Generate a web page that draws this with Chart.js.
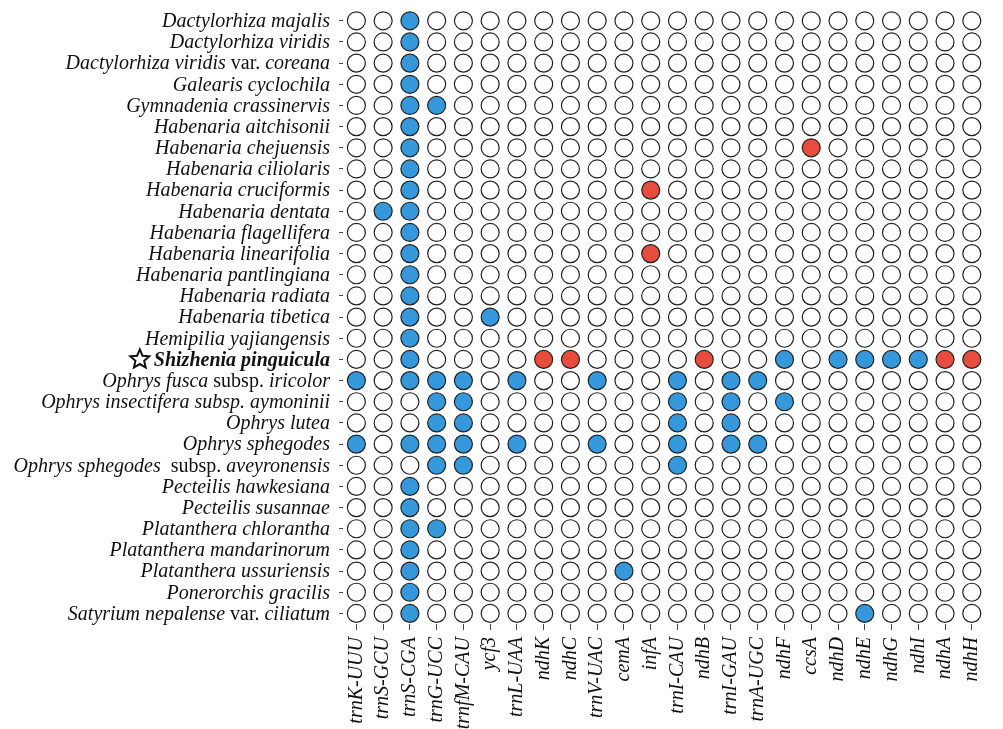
<!DOCTYPE html>
<html>
<head>
<meta charset="utf-8">
<script src="https://cdn.jsdelivr.net/npm/chart.js@4.4.1/dist/chart.umd.min.js"></script>
<style>
  html, body { margin: 0; padding: 0; background: #fff; }
  #wrap { width: 1003px; height: 729px; position: relative; }
</style>
</head>
<body>
<div id="wrap"><canvas id="chart"></canvas></div>
<script>
const genes = ['trnK-UUU', 'trnS-GCU', 'trnS-CGA', 'trnG-UCC', 'trnfM-CAU', 'ycf3', 'trnL-UAA', 'ndhK',
    'ndhC', 'trnV-UAC', 'cemA', 'infA', 'trnI-CAU', 'ndhB', 'trnI-GAU', 'trnA-UGC', 'ndhF', 'ccsA',
    'ndhD', 'ndhE', 'ndhG', 'ndhI', 'ndhA', 'ndhH']

// {...} marks the upright (non italic) part of a name
const speciesLabels = [
    'Dactylorhiza majalis',
    'Dactylorhiza viridis',
    'Dactylorhiza viridis{ var. }coreana',
    'Galearis cyclochila',
    'Gymnadenia crassinervis',
    'Habenaria aitchisonii',
    'Habenaria chejuensis',
    'Habenaria ciliolaris',
    'Habenaria cruciformis',
    'Habenaria dentata',
    'Habenaria flagellifera',
    'Habenaria linearifolia',
    'Habenaria pantlingiana',
    'Habenaria radiata',
    'Habenaria tibetica',
    'Hemipilia yajiangensis',
    'Shizhenia pinguicula',
    'Ophrys fusca{ subsp. }iricolor',
    'Ophrys insectifera subsp. aymoninii',
    'Ophrys lutea',
    'Ophrys sphegodes',
    'Ophrys sphegodes{  subsp. }aveyronensis',
    'Pecteilis hawkesiana',
    'Pecteilis susannae',
    'Platanthera chlorantha',
    'Platanthera mandarinorum',
    'Platanthera ussuriensis',
    'Ponerorchis gracilis',
    'Satyrium nepalense{ var. }ciliatum'
]
const species = speciesLabels.map(s => s.replace(/[{}]/g, ''))
const highlighted = 'Shizhenia pinguicula'

// genes drawn blue, one list per species (same order)
const blueGenes = [
    ['trnS-CGA'],
    ['trnS-CGA'],
    ['trnS-CGA'],
    ['trnS-CGA'],
    ['trnS-CGA', 'trnG-UCC'],
    ['trnS-CGA'],
    ['trnS-CGA'],
    ['trnS-CGA'],
    ['trnS-CGA'],
    ['trnS-GCU', 'trnS-CGA'],
    ['trnS-CGA'],
    ['trnS-CGA'],
    ['trnS-CGA'],
    ['trnS-CGA'],
    ['trnS-CGA', 'ycf3'],
    ['trnS-CGA'],
    ['trnS-CGA', 'ndhF', 'ndhD', 'ndhE', 'ndhG', 'ndhI'],
    ['trnK-UUU', 'trnS-CGA', 'trnG-UCC', 'trnfM-CAU', 'trnL-UAA', 'trnV-UAC', 'trnI-CAU', 'trnI-GAU', 'trnA-UGC'],
    ['trnG-UCC', 'trnfM-CAU', 'trnI-CAU', 'trnI-GAU', 'ndhF'],
    ['trnG-UCC', 'trnfM-CAU', 'trnI-CAU', 'trnI-GAU'],
    ['trnK-UUU', 'trnS-CGA', 'trnG-UCC', 'trnfM-CAU', 'trnL-UAA', 'trnV-UAC', 'trnI-CAU', 'trnI-GAU', 'trnA-UGC'],
    ['trnG-UCC', 'trnfM-CAU', 'trnI-CAU'],
    ['trnS-CGA'],
    ['trnS-CGA'],
    ['trnS-CGA', 'trnG-UCC'],
    ['trnS-CGA'],
    ['trnS-CGA', 'cemA'],
    ['trnS-CGA'],
    ['trnS-CGA', 'ndhE']
]

// genes drawn red, one list per species (same order)
const redGenes = [
    [], [], [], [], [], [],
    ['ccsA'],
    [],
    ['infA'],
    [], [],
    ['infA'],
    [], [], [], [],
    ['ndhK', 'ndhC', 'ndhB', 'ndhA', 'ndhH'],
    [], [], [], [], [], [], [], [], [], [], [], []
]

const BLUE = '#3498db'
const RED = '#e74c3c'
const FONT = 'Liberation Serif'
const FONT_SIZE = 20

const emptyPts = [], bluePts = [], redPts = []
species.forEach((sp, i) => {
    genes.forEach(g => {
        const pt = {x: g, y: sp}
        if (redGenes[i].includes(g)) redPts.push(pt)
        else if (blueGenes[i].includes(g)) bluePts.push(pt)
        else emptyPts.push(pt)
    })
})

const dotStyle = (data, fill) => ({
    data: data,
    backgroundColor: fill,
    borderColor: '#222',
    borderWidth: 1.2,
    pointRadius: 9,
    pointHoverRadius: 9
})

function drawStar(ctx, cx, cy, R, r) {
    ctx.beginPath()
    for (let k = 0; k < 10; k++) {
        const rad = k % 2 ? r : R
        const a = -Math.PI / 2 + k * Math.PI / 5
        ctx.lineTo(cx + rad * Math.cos(a), cy + rad * Math.sin(a))
    }
    ctx.closePath()
    ctx.stroke()
}

// y labels have mixed styles, so they are drawn here
const speciesLabelPlugin = {
    id: 'speciesLabels',
    afterDraw(chart) {
        const {ctx, scales: {y}} = chart
        const right = y.right - 4 - 9
        ctx.save()
        ctx.fillStyle = '#111'
        ctx.strokeStyle = '#111'
        ctx.textBaseline = 'middle'
        ctx.textAlign = 'left'
        speciesLabels.forEach((lab, i) => {
            const yy = y.getPixelForValue(i) + 1
            let parts = []
            const bold = species[i] === highlighted
            lab.split(/([{}])/).reduce((upright, seg) => {
                if (seg === '{') return true
                if (seg === '}') return false
                if (seg) parts.push({t: seg, f: (upright ? '' : 'italic ') + (bold ? 'bold ' : '') + FONT_SIZE + 'px "' + FONT + '"'})
                return upright
            }, false)
            let total = 0
            parts.forEach(p => { ctx.font = p.f; p.w = ctx.measureText(p.t).width; total += p.w })
            let x = right - total
            if (bold) {
                ctx.lineWidth = 2
                ctx.lineJoin = 'miter'
                drawStar(ctx, x - 14, yy - 1, 10, 4.6)
            }
            parts.forEach(p => { ctx.font = p.f; ctx.fillText(p.t, x, yy); x += p.w })
        })
        ctx.restore()
    }
}

new Chart(document.getElementById('chart'), {
    type: 'scatter',
    data: {
        datasets: [dotStyle(emptyPts, '#ffffff'), dotStyle(bluePts, BLUE), dotStyle(redPts, RED)]
    },
    options: {
        responsive: true,
        maintainAspectRatio: false,
        animation: false,
        layout: {padding: {top: 5, right: 4, left: 0, bottom: 0}},
        plugins: {legend: {display: false}, tooltip: {enabled: false}},
        scales: {
            x: {
                type: 'category',
                labels: genes,
                offset: true,
                border: {display: false},
                grid: {drawOnChartArea: false, tickLength: 6, color: '#444', tickColor: '#444'},
                ticks: {
                    autoSkip: false, minRotation: 90, maxRotation: 90, padding: 7,
                    color: '#111', font: {family: FONT, style: 'italic', size: FONT_SIZE}
                },
                afterFit: s => { s.height = 105 }
            },
            y: {
                type: 'category',
                labels: species,
                offset: true,
                border: {display: false},
                grid: {drawOnChartArea: false, tickLength: 4, color: '#444', tickColor: '#444'},
                ticks: {display: false, autoSkip: false},
                afterFit: s => { s.width = 343 }
            }
        }
    },
    plugins: [speciesLabelPlugin]
})
</script>
</body>
</html>
